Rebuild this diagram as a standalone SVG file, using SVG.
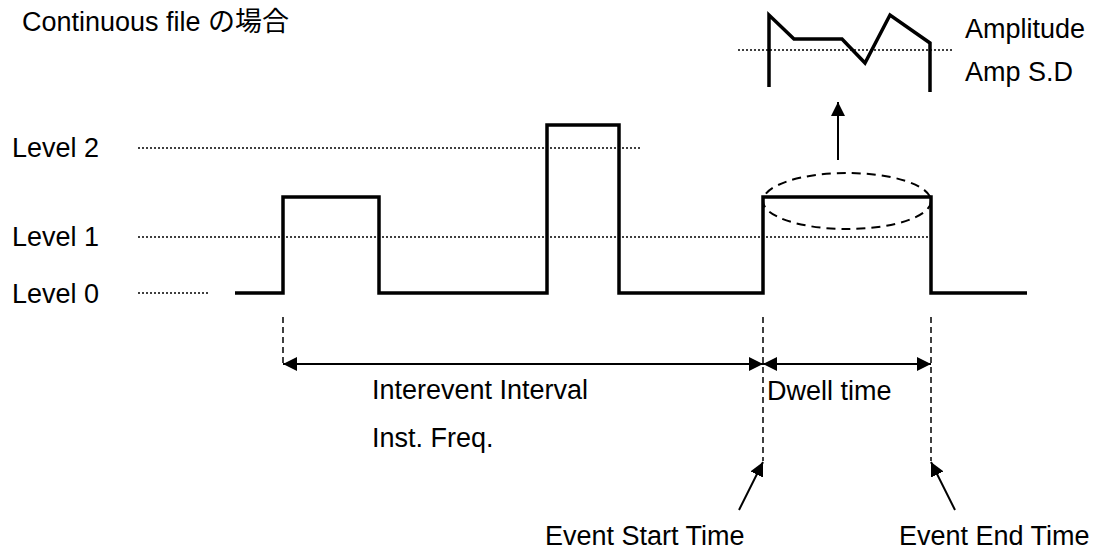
<svg xmlns="http://www.w3.org/2000/svg" width="1100" height="550" viewBox="0 0 1100 550">
<style>
text{font-family:"Liberation Sans","Noto Sans CJK JP",sans-serif;font-size:27px;fill:#000}
.dot{stroke:#000;stroke-width:1.5;stroke-dasharray:2 2;fill:none}
.trace{stroke:#000;stroke-width:3.5;fill:none;stroke-linejoin:miter}
.dash{stroke:#000;stroke-width:1.5;stroke-dasharray:6 4;fill:none}
.ell{stroke:#000;stroke-width:2;stroke-dasharray:9 6;fill:none}
.arr{stroke:#000;stroke-width:2;fill:none}
</style>
<defs>
<marker id="ahb" viewBox="0 0 10 10" refX="10" refY="5" markerWidth="7" markerHeight="7" orient="auto-start-reverse">
<path d="M0,0 L10,5 L0,10 Z" fill="#000"/>
</marker>
</defs>
<g id="title"><text x="22" y="31">Continuous file の場合</text></g>
<g id="levels">
<text x="12" y="157">Level 2</text>
<text x="12" y="246">Level 1</text>
<text x="12" y="303">Level 0</text>
<line class="dot" x1="138" y1="148" x2="640" y2="148"/>
<line class="dot" x1="138" y1="237" x2="930" y2="237"/>
<line class="dot" x1="138" y1="293" x2="208" y2="293"/>
</g>
<g id="trace">
<path class="trace" d="M235,293 H283 V197 H379 V293 H547 V125 H619 V293 H763 V197 H931 V293 H1027"/>
<ellipse class="ell" cx="847" cy="201" rx="84" ry="28"/>
</g>
<g id="amplitude">
<line class="dot" x1="738" y1="50" x2="953" y2="50"/>
<polyline class="trace" points="769,87 769,15 794,39 842,39 865,63 890,15 930,43 930,92"/>
<text x="965" y="38">Amplitude</text>
<text x="965" y="81">Amp S.D</text>
</g>
<g id="connectors">
<line class="arr" x1="838" y1="160" x2="838" y2="102" marker-end="url(#ahb)"/>
<line class="dash" x1="283" y1="317" x2="283" y2="364"/>
<line class="dash" x1="763" y1="317" x2="763" y2="461"/>
<line class="dash" x1="931" y1="317" x2="931" y2="461"/>
<line class="arr" x1="283" y1="364" x2="763" y2="364" marker-start="url(#ahb)" marker-end="url(#ahb)"/>
<line class="arr" x1="763" y1="364" x2="931" y2="364" marker-start="url(#ahb)" marker-end="url(#ahb)"/>
<line class="arr" x1="739" y1="510" x2="763" y2="462" marker-end="url(#ahb)"/>
<line class="arr" x1="955" y1="510" x2="931" y2="462" marker-end="url(#ahb)"/>
</g>
<g id="labels">
<text x="372" y="399">Interevent Interval</text>
<text x="372" y="447">Inst. Freq.</text>
<text x="767" y="400">Dwell time</text>
<text x="545" y="545">Event Start Time</text>
<text x="899" y="545">Event End Time</text>
</g>
</svg>
